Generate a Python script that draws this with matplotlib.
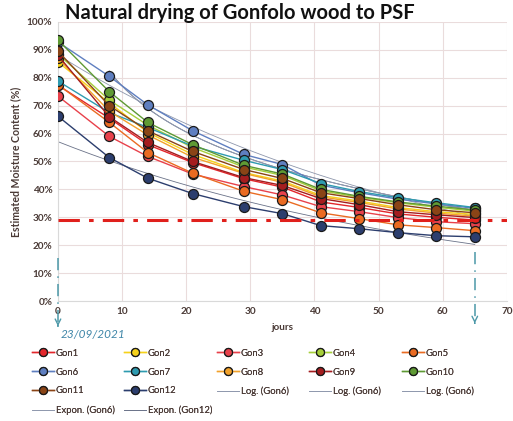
import numpy as np
import matplotlib.pyplot as plt

plt.rcParams['font.family'] = ['Lato', 'DejaVu Sans']

# ---------------------------------------------------------------
# Data
# ---------------------------------------------------------------
days = [0, 8, 14, 21, 29, 35, 41, 47, 53, 59, 65]

gon1 = [77.3, 65.5, 56.0, 49.6, 43.8, 40.8, 35.5, 33.5, 31.2, 30.0, 29.0]
gon2 = [85.6, 71.0, 60.4, 52.5, 46.0, 43.0, 37.8, 35.8, 33.5, 32.0, 31.0]
gon3 = [73.4, 59.0, 51.8, 45.5, 41.0, 38.0, 33.8, 32.0, 29.9, 28.4, 27.7]
gon4 = [88.5, 72.0, 63.0, 55.0, 48.0, 45.0, 39.5, 37.2, 35.2, 33.6, 32.2]
gon5 = [77.5, 64.0, 53.2, 45.8, 39.3, 36.3, 31.6, 29.5, 27.3, 26.3, 25.2]
gon6 = [92.8, 80.5, 70.3, 61.0, 52.5, 48.9, 41.5, 38.8, 36.5, 34.8, 33.2]
gon7 = [78.8, 67.5, 62.2, 55.5, 50.4, 47.1, 42.1, 39.2, 37.0, 35.2, 33.5]
gon8 = [87.0, 68.0, 59.5, 51.5, 45.7, 42.5, 37.3, 35.3, 33.0, 31.5, 30.4]
gon9 = [88.0, 66.0, 56.8, 50.0, 44.2, 41.4, 36.7, 34.5, 32.0, 30.9, 29.9]
gon10 = [93.5, 75.0, 64.0, 56.0, 48.6, 45.5, 40.0, 37.5, 35.5, 34.0, 32.6]
gon11 = [89.5, 70.0, 61.0, 53.6, 47.1, 43.9, 38.8, 36.7, 34.5, 32.7, 31.6]
gon12 = [66.2, 51.4, 44.0, 38.5, 33.8, 31.3, 27.0, 25.9, 24.5, 23.4, 23.0]

series = [gon1, gon2, gon3, gon4, gon5, gon6, gon7, gon8, gon9, gon10, gon11, gon12]
names = ["Gon1", "Gon2", "Gon3", "Gon4", "Gon5", "Gon6",
         "Gon7", "Gon8", "Gon9", "Gon10", "Gon11", "Gon12"]
colors = ["#E3262B", "#F6D21A", "#E8414B", "#A6CF3A", "#EA6B22", "#5F7FC0",
          "#2E9BB0", "#F2A22B", "#A51D1F", "#5F9A34", "#8A4416", "#2C3E6E"]

psf = 29.0           # fibre saturation point
start_day = 0
end_day = 65
start_date = "23/09/2021"

TEXT = "#4A3A36"
TREND = "#8E97AC"

# ---------------------------------------------------------------
# Figure
# ---------------------------------------------------------------
fig = plt.figure(figsize=(5.13, 4.21), dpi=100)
ax = fig.add_axes([0.113, 0.285, 0.875, 0.663])

x = np.array(days, dtype=float)
handles = []
for name, vals, c in zip(names, series, colors):
    h, = ax.plot(days, vals, color=c, lw=1.0, marker="o", ms=7.2,
                 mfc=c, mec="#1A1A1A", mew=0.9, label=name, zorder=3)
    handles.append(h)

# trendlines, fitted the way the spreadsheet does it
xx = np.linspace(0, 65, 200)
xl = np.linspace(8, 65, 200)
y6 = np.array(gon6)
y12 = np.array(gon12)
b_log, a_log = np.polyfit(np.log(x[1:]), y6[1:], 1)
log_handles = []
for _ in range(3):
    h, = ax.plot(xl, a_log + b_log * np.log(xl), color=TREND, lw=0.6,
                 label="Log. (Gon6)", zorder=2)
    log_handles.append(h)
b6, la6 = np.polyfit(x, np.log(y6), 1)
h_e6, = ax.plot(xx, np.exp(la6 + b6 * xx), color=TREND, lw=0.6,
                label="Expon. (Gon6)", zorder=2)
b12, la12 = np.polyfit(x, np.log(y12), 1)
h_e12, = ax.plot(xx, np.exp(la12 + b12 * xx), color="#6A7288", lw=0.6,
                 label="Expon. (Gon12)", zorder=2)

# PSF line
ax.axhline(psf, color="#E0201C", lw=2.2, ls=(0, (7, 3, 1.5, 3)), zorder=4)

# start / end markers
teal = "#4C98A8"
ax.plot([start_day, start_day], [15.5, -7.5], color=teal, lw=1.1,
        ls=(0, (8, 4, 1, 4)), clip_on=False, zorder=5)
ax.annotate("", xy=(start_day, -10.0), xytext=(start_day, -8.0),
            arrowprops=dict(arrowstyle="->", color=teal, lw=1.0,
                            mutation_scale=10),
            annotation_clip=False)
ax.plot([end_day, end_day], [17.5, -6.5], color=teal, lw=1.1,
        ls=(0, (8, 4, 1, 4)), clip_on=False, zorder=5)
ax.annotate("", xy=(end_day, -9.0), xytext=(end_day, -7.0),
            arrowprops=dict(arrowstyle="->", color=teal, lw=1.0,
                            mutation_scale=10),
            annotation_clip=False)
ax.text(0.4, -12.0, start_date, color="#3F86A8", fontsize=8.5,
        style="italic", ha="left", va="center", clip_on=False)

# axes styling
ax.set_xlim(0, 70)
ax.set_ylim(0, 100)
ax.set_xticks(range(0, 71, 10))
ax.set_yticks(range(0, 101, 10))
ax.set_yticklabels([f"{v}%" for v in range(0, 101, 10)])
ax.grid(True, color="#EADCDC", lw=0.8)
ax.set_axisbelow(True)
for s in ["top", "right"]:
    ax.spines[s].set_visible(False)
for s in ["left", "bottom"]:
    ax.spines[s].set_color("#D9D9D9")
ax.tick_params(length=0, labelsize=7.2, colors=TEXT, pad=4)
for lab in ax.get_xticklabels() + ax.get_yticklabels():
    lab.set_fontweight("bold")

ax.set_xlabel("jours", fontsize=7.2, fontweight="bold", color=TEXT, labelpad=5)
ax.set_ylabel("Estimated Moisture Content (%)", fontsize=7.6,
              fontweight="bold", color=TEXT, labelpad=4)
fig.text(0.468, 0.968, "Natural drying of Gonfolo wood to PSF",
         fontsize=14.5, fontweight="bold", color="#111111",
         ha="center", va="center")

# legend: five fixed-width columns, filled row by row
columns = [
    [handles[0], handles[5], handles[10], h_e6],
    [handles[1], handles[6], handles[11], h_e12],
    [handles[2], handles[7], log_handles[0]],
    [handles[3], handles[8], log_handles[1]],
    [handles[4], handles[9], log_handles[2]],
]
col_x = [32, 124, 217, 309, 402]
for cx, col in zip(col_x, columns):
    leg = fig.legend(handles=col, labels=[h.get_label() for h in col],
                     ncol=1, loc="upper left",
                     bbox_to_anchor=(cx / 513, 0.172),
                     frameon=False, fontsize=6.8, handlelength=2.3,
                     handletextpad=0.2, labelspacing=1.05,
                     markerscale=0.8, borderaxespad=0, borderpad=0)
    for t in leg.get_texts():
        t.set_color(TEXT)
    fig.add_artist(leg)

fig.savefig("out.png", dpi=100)
